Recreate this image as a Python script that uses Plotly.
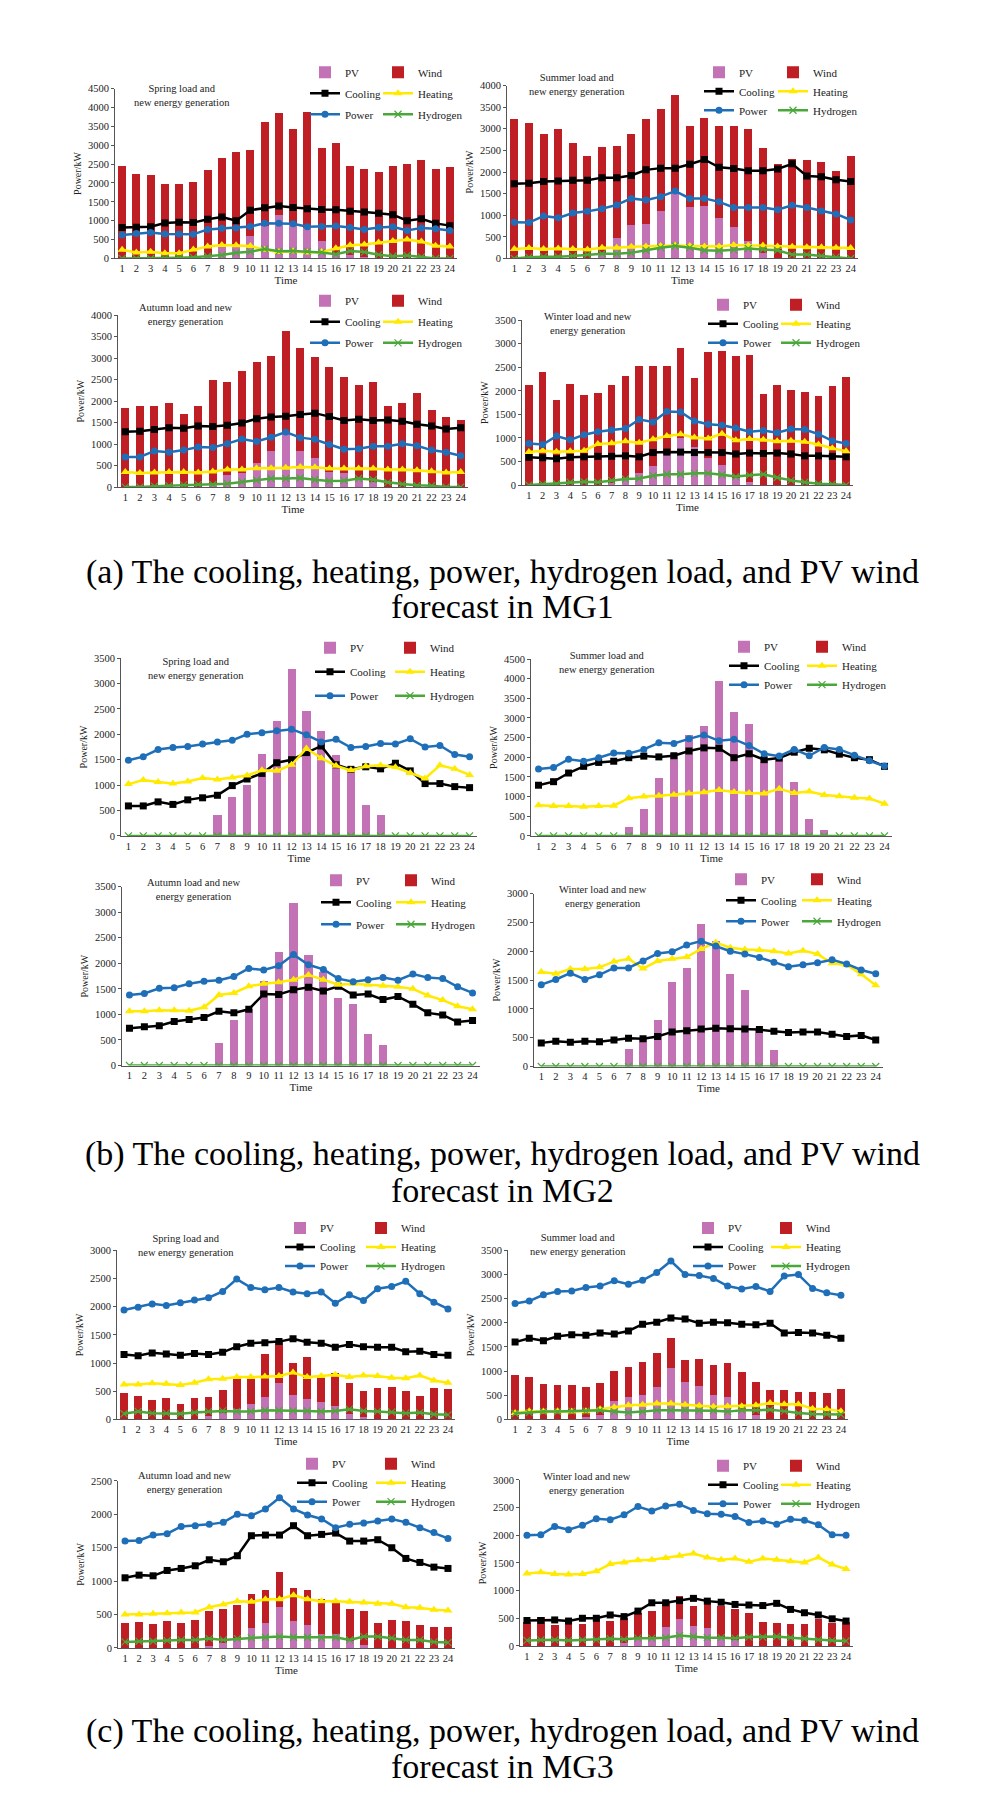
import plotly.graph_objects as go

# page is 996x1813; the html body keeps its default 8px margin, so the figure
# is drawn 8px in from the top-left corner of the window
PAGE_OFF = 8
W, H = 980, 1797
hours = list(range(1, 25))

# ---------------- MG1 ----------------
mg1_spring_pv = [0, 0, 0, 0, 0, 0, 100, 300, 350, 600, 850, 1150, 900, 800, 450, 150, 100, 50, 0, 0, 0, 0, 0, 0]
mg1_spring_wind = [2450, 2250, 2200, 1960, 1970, 2030, 2240, 2350, 2460, 2270, 2770, 2710, 2530, 3080, 2470, 2900, 2360, 2310, 2280, 2440, 2490, 2610, 2360, 2410]
mg1_spring_cooling = [820, 830, 840, 940, 960, 950, 1040, 1100, 1000, 1280, 1340, 1390, 1350, 1320, 1300, 1290, 1250, 1230, 1200, 1160, 1000, 1050, 930, 870]
mg1_spring_heating = [230, 160, 180, 140, 140, 240, 320, 360, 350, 330, 230, 170, 190, 160, 170, 270, 350, 370, 420, 460, 500, 450, 340, 320]
mg1_spring_power = [620, 660, 690, 650, 650, 640, 770, 800, 810, 850, 930, 930, 920, 840, 850, 860, 820, 770, 820, 840, 740, 810, 790, 740]
mg1_spring_hydrogen = [0, 0, 0, 10, 20, 30, 60, 90, 150, 180, 250, 190, 200, 190, 160, 110, 200, 170, 100, 60, 80, 40, 0, 0]

mg1_summer_pv = [0, 0, 0, 0, 0, 0, 100, 480, 780, 800, 1090, 1550, 1180, 1210, 940, 730, 400, 130, 0, 0, 0, 0, 0, 0]
mg1_summer_wind = [3220, 3130, 2870, 2990, 2680, 2370, 2490, 2130, 2100, 2420, 2360, 2230, 1880, 2040, 2130, 2330, 2600, 2420, 2180, 2310, 2270, 2240, 2020, 2370]
mg1_summer_cooling = [1730, 1740, 1780, 1790, 1810, 1810, 1870, 1870, 1920, 2050, 2090, 2090, 2180, 2290, 2110, 2080, 2030, 2030, 2070, 2190, 1910, 1890, 1820, 1780]
mg1_summer_heating = [220, 240, 220, 230, 220, 210, 250, 250, 270, 280, 290, 300, 290, 280, 280, 310, 300, 300, 280, 270, 260, 260, 250, 240]
mg1_summer_power = [840, 830, 980, 940, 1050, 1090, 1150, 1240, 1390, 1350, 1430, 1560, 1390, 1390, 1310, 1180, 1180, 1180, 1130, 1230, 1180, 1100, 1030, 890]
mg1_summer_hydrogen = [0, 30, 40, 40, 60, 90, 110, 110, 130, 190, 250, 290, 250, 190, 180, 200, 230, 210, 190, 90, 90, 60, 30, 0]

mg1_autumn_pv = [0, 0, 0, 0, 0, 0, 50, 280, 330, 570, 840, 1250, 850, 670, 350, 320, 200, 120, 0, 0, 0, 0, 0, 0]
mg1_autumn_wind = [1830, 1890, 1890, 1960, 1690, 1890, 2440, 2160, 2380, 2350, 2210, 2370, 2390, 2350, 2440, 2240, 2180, 2330, 1880, 1960, 2190, 1790, 1620, 1570]
mg1_autumn_cooling = [1290, 1300, 1340, 1380, 1370, 1420, 1410, 1440, 1490, 1590, 1630, 1650, 1690, 1720, 1640, 1550, 1580, 1550, 1560, 1530, 1460, 1420, 1350, 1380]
mg1_autumn_heating = [350, 330, 340, 350, 350, 340, 360, 410, 410, 440, 440, 450, 470, 460, 430, 430, 430, 430, 410, 410, 390, 370, 340, 350]
mg1_autumn_power = [700, 700, 840, 810, 860, 930, 920, 1010, 1120, 1060, 1160, 1280, 1150, 1110, 990, 880, 890, 950, 950, 1010, 960, 860, 810, 730]
mg1_autumn_hydrogen = [0, 0, 20, 30, 50, 60, 60, 80, 120, 160, 200, 200, 210, 170, 140, 150, 200, 170, 110, 70, 40, 30, 0, 0]

mg1_winter_pv = [0, 0, 0, 0, 0, 0, 50, 100, 250, 400, 650, 1000, 800, 580, 420, 150, 60, 0, 0, 0, 0, 0, 0, 0]
mg1_winter_wind = [2120, 2390, 1810, 2140, 1920, 1960, 2080, 2220, 2270, 2120, 1870, 1910, 1480, 2240, 2430, 2590, 2700, 1940, 2120, 2020, 1980, 1880, 2100, 2300]
mg1_winter_cooling = [590, 580, 560, 590, 600, 610, 610, 620, 600, 690, 700, 700, 690, 690, 690, 660, 680, 670, 680, 660, 620, 620, 610, 600]
mg1_winter_heating = [700, 730, 710, 720, 730, 870, 890, 930, 900, 970, 1040, 1080, 1010, 990, 1090, 950, 980, 960, 930, 940, 920, 860, 780, 720]
mg1_winter_power = [880, 860, 1040, 960, 1070, 1130, 1170, 1200, 1390, 1340, 1560, 1550, 1360, 1290, 1270, 1210, 1130, 1160, 1110, 1190, 1180, 1080, 940, 880]
mg1_winter_hydrogen = [0, 20, 30, 60, 70, 60, 100, 130, 140, 200, 230, 230, 250, 250, 220, 180, 210, 230, 160, 100, 60, 30, 20, 0]

# ---------------- MG2 ----------------
mg2_spring_pv = [0, 0, 0, 0, 0, 0, 420, 770, 1010, 1620, 2270, 3280, 2460, 2070, 1590, 1330, 610, 420, 0, 0, 0, 0, 0, 0]
mg2_spring_wind = [0, 0, 0, 0, 0, 0, 0, 0, 0, 0, 0, 0, 0, 0, 0, 0, 0, 0, 0, 0, 0, 0, 0, 0]
mg2_spring_cooling = [590, 590, 670, 620, 710, 750, 800, 990, 1120, 1230, 1440, 1500, 1640, 1770, 1400, 1310, 1360, 1320, 1430, 1280, 1030, 1030, 970, 950]
mg2_spring_heating = [1020, 1100, 1060, 1030, 1070, 1140, 1110, 1150, 1190, 1290, 1280, 1400, 1720, 1530, 1380, 1290, 1370, 1390, 1350, 1240, 1130, 1390, 1320, 1200]
mg2_spring_power = [1490, 1560, 1700, 1740, 1760, 1810, 1850, 1880, 2000, 2030, 2070, 2100, 1990, 1850, 1900, 1740, 1760, 1820, 1810, 1910, 1750, 1780, 1600, 1560]
mg2_spring_hydrogen = [0, 0, 0, 0, 0, 0, 0, 0, 0, 0, 0, 0, 0, 0, 0, 0, 0, 0, 0, 0, 0, 0, 0, 0]

mg2_summer_pv = [0, 0, 0, 0, 0, 0, 230, 690, 1480, 2120, 2580, 2800, 3940, 3160, 2840, 1950, 2010, 1380, 430, 150, 0, 0, 0, 0]
mg2_summer_wind = [0, 0, 0, 0, 0, 0, 0, 0, 0, 0, 0, 0, 0, 0, 0, 0, 0, 0, 0, 0, 0, 0, 0, 0]
mg2_summer_cooling = [1290, 1380, 1600, 1770, 1870, 1900, 1990, 2030, 2010, 2040, 2160, 2240, 2230, 1990, 2090, 1940, 1980, 2130, 2230, 2190, 2080, 1990, 1940, 1770]
mg2_summer_heating = [780, 760, 760, 740, 760, 770, 960, 1000, 1020, 1050, 1080, 1110, 1170, 1120, 1090, 1080, 1200, 1090, 1130, 1040, 1010, 970, 950, 820]
mg2_summer_power = [1700, 1740, 1950, 1900, 1990, 2110, 2100, 2200, 2370, 2350, 2470, 2570, 2420, 2460, 2300, 2090, 2030, 2200, 2040, 2250, 2200, 2050, 1910, 1780]
mg2_summer_hydrogen = [0, 0, 0, 0, 0, 0, 0, 0, 0, 0, 0, 0, 0, 0, 0, 0, 0, 0, 0, 0, 0, 0, 0, 0]

mg2_autumn_pv = [0, 0, 0, 0, 0, 0, 440, 900, 1100, 1660, 2230, 3180, 2170, 1830, 1320, 1210, 620, 410, 0, 0, 0, 0, 0, 0]
mg2_autumn_wind = [0, 0, 0, 0, 0, 0, 0, 0, 0, 0, 0, 0, 0, 0, 0, 0, 0, 0, 0, 0, 0, 0, 0, 0]
mg2_autumn_cooling = [730, 760, 780, 860, 900, 940, 1060, 1030, 1100, 1400, 1390, 1480, 1530, 1460, 1550, 1380, 1400, 1290, 1350, 1200, 1030, 990, 850, 880]
mg2_autumn_heating = [1060, 1060, 1080, 1080, 1070, 1140, 1380, 1420, 1550, 1600, 1630, 1680, 1770, 1680, 1580, 1600, 1580, 1560, 1540, 1500, 1370, 1280, 1160, 1100]
mg2_autumn_power = [1380, 1410, 1510, 1520, 1600, 1650, 1670, 1740, 1900, 1870, 1950, 2170, 1970, 1880, 1700, 1640, 1680, 1720, 1670, 1790, 1720, 1700, 1540, 1420]
mg2_autumn_hydrogen = [0, 0, 0, 0, 0, 0, 0, 0, 0, 0, 0, 0, 0, 0, 0, 0, 0, 0, 0, 0, 0, 0, 0, 0]

mg2_winter_pv = [0, 0, 0, 0, 0, 0, 300, 500, 800, 1460, 1710, 2480, 2170, 1610, 1330, 650, 280, 0, 0, 0, 0, 0, 0, 0]
mg2_winter_wind = [0, 0, 0, 0, 0, 0, 0, 0, 0, 0, 0, 0, 0, 0, 0, 0, 0, 0, 0, 0, 0, 0, 0, 0]
mg2_winter_cooling = [410, 440, 420, 440, 430, 460, 490, 480, 520, 600, 620, 650, 665, 655, 650, 640, 610, 590, 600, 600, 560, 520, 540, 460]
mg2_winter_heating = [1640, 1610, 1690, 1690, 1720, 1820, 1870, 1700, 1830, 1870, 1900, 2040, 2150, 2060, 2030, 2020, 2000, 1960, 2010, 1950, 1790, 1760, 1600, 1410]
mg2_winter_power = [1420, 1510, 1620, 1510, 1590, 1710, 1710, 1830, 1960, 1990, 2110, 2175, 2090, 2000, 1950, 1890, 1810, 1730, 1765, 1800, 1850, 1780, 1675, 1610]
mg2_winter_hydrogen = [0, 0, 0, 0, 0, 0, 0, 0, 0, 0, 0, 0, 0, 0, 0, 0, 0, 0, 0, 0, 0, 0, 0, 0]

# ---------------- MG3 ----------------
mg3_spring_pv = [0, 0, 0, 0, 0, 0, 60, 120, 180, 270, 400, 640, 440, 360, 310, 230, 100, 40, 0, 0, 0, 0, 0, 0]
mg3_spring_wind = [460, 410, 350, 370, 270, 370, 340, 400, 560, 450, 760, 740, 560, 750, 440, 600, 540, 470, 560, 570, 510, 410, 560, 540]
mg3_spring_cooling = [1150, 1130, 1180, 1160, 1140, 1170, 1150, 1190, 1290, 1350, 1360, 1380, 1430, 1370, 1350, 1280, 1330, 1290, 1280, 1280, 1200, 1210, 1150, 1140]
mg3_spring_heating = [620, 620, 640, 630, 610, 650, 710, 720, 750, 750, 760, 770, 830, 750, 770, 790, 750, 780, 770, 740, 730, 780, 690, 650]
mg3_spring_power = [1940, 1990, 2050, 2020, 2070, 2120, 2160, 2270, 2490, 2340, 2300, 2340, 2260, 2230, 2260, 2060, 2210, 2110, 2320, 2360, 2450, 2230, 2080, 1960]
mg3_spring_hydrogen = [100, 140, 110, 110, 100, 120, 140, 150, 140, 140, 160, 160, 150, 150, 140, 150, 180, 150, 140, 130, 110, 120, 90, 80]

mg3_summer_pv = [0, 0, 0, 0, 0, 50, 100, 380, 460, 500, 670, 1070, 770, 700, 510, 460, 220, 80, 0, 0, 0, 0, 0, 0]
mg3_summer_wind = [920, 870, 740, 710, 720, 630, 650, 620, 620, 680, 710, 620, 460, 550, 620, 700, 760, 690, 600, 610, 570, 570, 550, 620]
mg3_summer_cooling = [1600, 1680, 1630, 1720, 1750, 1740, 1790, 1770, 1830, 1970, 2010, 2100, 2080, 1990, 2010, 2000, 1970, 1960, 1990, 1790, 1800, 1790, 1740, 1680]
mg3_summer_heating = [130, 170, 160, 170, 160, 170, 210, 250, 290, 300, 330, 330, 300, 280, 260, 270, 270, 290, 340, 310, 310, 220, 210, 170]
mg3_summer_power = [2400, 2450, 2580, 2650, 2660, 2730, 2760, 2870, 2800, 2880, 3040, 3280, 3000, 2980, 2920, 2760, 2700, 2750, 2650, 2970, 3000, 2710, 2620, 2570]
mg3_summer_hydrogen = [120, 140, 160, 160, 170, 170, 190, 160, 140, 160, 190, 190, 190, 180, 180, 160, 190, 190, 200, 170, 130, 110, 110, 100]

mg3_autumn_pv = [0, 0, 0, 0, 0, 0, 30, 80, 120, 300, 380, 610, 400, 350, 210, 210, 100, 40, 0, 0, 0, 0, 0, 0]
mg3_autumn_wind = [370, 390, 360, 400, 370, 420, 520, 500, 520, 500, 490, 520, 500, 520, 530, 480, 480, 520, 380, 420, 410, 340, 320, 310]
mg3_autumn_cooling = [1050, 1090, 1080, 1160, 1190, 1230, 1320, 1290, 1380, 1680, 1690, 1690, 1830, 1680, 1700, 1720, 1600, 1600, 1620, 1500, 1340, 1280, 1210, 1190]
mg3_autumn_heating = [500, 500, 510, 520, 530, 530, 610, 650, 700, 690, 730, 730, 790, 730, 700, 700, 690, 680, 660, 660, 610, 600, 570, 560]
mg3_autumn_power = [1600, 1610, 1690, 1710, 1820, 1830, 1850, 1880, 2000, 1980, 2080, 2250, 2080, 1990, 1930, 1800, 1850, 1870, 1900, 1930, 1880, 1800, 1730, 1640]
mg3_autumn_hydrogen = [90, 100, 100, 110, 120, 120, 140, 120, 140, 150, 160, 170, 160, 160, 150, 160, 120, 170, 170, 150, 120, 120, 90, 80]

mg3_winter_pv = [0, 0, 0, 0, 0, 0, 0, 60, 120, 130, 350, 480, 360, 320, 170, 100, 0, 0, 0, 0, 0, 0, 0, 0]
mg3_winter_wind = [440, 520, 370, 440, 400, 490, 450, 450, 470, 510, 440, 430, 360, 500, 550, 570, 600, 440, 420, 390, 390, 480, 420, 440]
mg3_winter_cooling = [460, 460, 470, 450, 500, 500, 560, 530, 630, 780, 780, 820, 860, 810, 790, 750, 740, 730, 770, 660, 600, 560, 490, 450]
mg3_winter_heating = [1310, 1330, 1300, 1290, 1300, 1350, 1480, 1510, 1550, 1560, 1590, 1630, 1670, 1600, 1560, 1580, 1520, 1580, 1560, 1530, 1510, 1600, 1470, 1390]
mg3_winter_power = [2000, 2010, 2160, 2100, 2180, 2300, 2280, 2370, 2520, 2440, 2530, 2560, 2450, 2390, 2380, 2340, 2230, 2260, 2200, 2290, 2270, 2190, 2010, 2000]
mg3_winter_hydrogen = [100, 110, 110, 100, 110, 110, 130, 120, 140, 140, 150, 190, 170, 150, 150, 140, 160, 160, 170, 150, 130, 110, 100, 90]

panel_titles = {
    "spring": "Spring load and<br>new energy generation",
    "summer": "Summer load and<br>new energy generation",
    "autumn": "Autumn load and new<br>energy generation",
    "winter": "Winter load and new<br>energy generation",
}
captions = [
    ("(a) The cooling, heating, power, hydrogen load, and PV wind", "forecast in MG1"),
    ("(b) The cooling, heating, power, hydrogen load, and PV wind", "forecast in MG2"),
    ("(c) The cooling, heating, power, hydrogen load, and PV wind", "forecast in MG3"),
]

series = [
    ("spring", mg1_spring_pv, mg1_spring_wind, mg1_spring_cooling, mg1_spring_heating, mg1_spring_power, mg1_spring_hydrogen),
    ("summer", mg1_summer_pv, mg1_summer_wind, mg1_summer_cooling, mg1_summer_heating, mg1_summer_power, mg1_summer_hydrogen),
    ("autumn", mg1_autumn_pv, mg1_autumn_wind, mg1_autumn_cooling, mg1_autumn_heating, mg1_autumn_power, mg1_autumn_hydrogen),
    ("winter", mg1_winter_pv, mg1_winter_wind, mg1_winter_cooling, mg1_winter_heating, mg1_winter_power, mg1_winter_hydrogen),
    ("spring", mg2_spring_pv, mg2_spring_wind, mg2_spring_cooling, mg2_spring_heating, mg2_spring_power, mg2_spring_hydrogen),
    ("summer", mg2_summer_pv, mg2_summer_wind, mg2_summer_cooling, mg2_summer_heating, mg2_summer_power, mg2_summer_hydrogen),
    ("autumn", mg2_autumn_pv, mg2_autumn_wind, mg2_autumn_cooling, mg2_autumn_heating, mg2_autumn_power, mg2_autumn_hydrogen),
    ("winter", mg2_winter_pv, mg2_winter_wind, mg2_winter_cooling, mg2_winter_heating, mg2_winter_power, mg2_winter_hydrogen),
    ("spring", mg3_spring_pv, mg3_spring_wind, mg3_spring_cooling, mg3_spring_heating, mg3_spring_power, mg3_spring_hydrogen),
    ("summer", mg3_summer_pv, mg3_summer_wind, mg3_summer_cooling, mg3_summer_heating, mg3_summer_power, mg3_summer_hydrogen),
    ("autumn", mg3_autumn_pv, mg3_autumn_wind, mg3_autumn_cooling, mg3_autumn_heating, mg3_autumn_power, mg3_autumn_hydrogen),
    ("winter", mg3_winter_pv, mg3_winter_wind, mg3_winter_cooling, mg3_winter_heating, mg3_winter_power, mg3_winter_hydrogen),
]

# panel frames in page pixels: x0, x1, y_top, y_bottom, y max,
# title centre (x, y), legend columns (x left, x right), first legend row y, row gap
frames = [
    (115, 457, 84, 255, 4500, (182, 91), (317, 390), 70, 2),
    (507, 858, 81, 255, 4000, (577, 80), (711, 785), 70, 0),
    (118, 468, 312, 485, 4000, (185, 311), (317, 390), 300, 2),
    (522, 853, 317, 483, 3500, (588, 320), (715, 788), 304, 0),
    (121, 477, 657, 836, 3500, (196, 668), (322, 402), 649, 5),
    (531, 892, 658, 836, 4500, (607, 661), (736, 814), 648, 0),
    (122, 480, 887, 1067, 3500, (193, 890), (328, 403), 883, 3),
    (534, 883, 894, 1068, 3000, (603, 897), (733, 809), 882, 2),
    (117, 455, 1253, 1423, 3000, (186, 1248), (292, 373), 1233, 0),
    (508, 848, 1253, 1423, 3500, (578, 1247), (700, 778), 1233, 0),
    (118, 455, 1485, 1653, 2500, (184, 1487), (304, 383), 1470, 0),
    (520, 853, 1484, 1651, 3000, (587, 1488), (715, 788), 1472, 0),
]
caption_y = [(570, 605), (1156, 1193), (1737, 1772)]

PV_C, WIND_C = "#C472B6", "#BE1E24"
COOL_C, HEAT_C, POWER_C, H2_C = "#000000", "#FFEA00", "#1F6FB8", "#4AA83A"
SERIF = "Liberation Serif, Times New Roman, serif"


def fx(p):
    return (p - PAGE_OFF) / W


def fy(p):
    return 1 - (p - PAGE_OFF) / H


fig = go.Figure()
layout = {}
annotations = []

for i, (season, pv, wind, cool, heat, power, h2) in enumerate(series):
    n = i + 1
    x0, x1, yt, yb, ymax, (tx, ty), (lx_left, lx_right), ly, gap = frames[i]
    xa, ya = ("x", "y") if n == 1 else (f"x{n}", f"y{n}")
    leg_a = "legend" if n == 1 else f"legend{2 * n - 1}"
    leg_b = f"legend{2 * n}"

    fig.add_trace(go.Bar(x=hours, y=pv, name="PV", marker=dict(color=PV_C, line=dict(width=0)),
                         xaxis=xa, yaxis=ya, legend=leg_a, legendgroup=f"pv{n}"))
    fig.add_trace(go.Bar(x=hours, y=wind, name="Wind", marker=dict(color=WIND_C, line=dict(width=0)),
                         xaxis=xa, yaxis=ya, legend=leg_b, legendgroup=f"wind{n}"))
    fig.add_trace(go.Scatter(x=hours, y=cool, name="Cooling", mode="lines+markers",
                             line=dict(color=COOL_C, width=2.5),
                             marker=dict(symbol="square", size=7, color=COOL_C),
                             xaxis=xa, yaxis=ya, legend=leg_a, legendgroup=f"cool{n}"))
    fig.add_trace(go.Scatter(x=hours, y=heat, name="Heating", mode="lines+markers",
                             line=dict(color=HEAT_C, width=2.5),
                             marker=dict(symbol="triangle-up", size=8, color=HEAT_C),
                             xaxis=xa, yaxis=ya, legend=leg_b, legendgroup=f"heat{n}"))
    fig.add_trace(go.Scatter(x=hours, y=power, name="Power", mode="lines+markers",
                             line=dict(color=POWER_C, width=2.5),
                             marker=dict(symbol="circle", size=7, color=POWER_C),
                             xaxis=xa, yaxis=ya, legend=leg_a, legendgroup=f"power{n}"))
    fig.add_trace(go.Scatter(x=hours, y=h2, name="Hydrogen", mode="lines+markers",
                             line=dict(color=H2_C, width=2.5),
                             marker=dict(symbol="x-thin", size=7, line=dict(color=H2_C, width=1.2)),
                             xaxis=xa, yaxis=ya, legend=leg_b, legendgroup=f"h2{n}"))

    xkey = "xaxis" if n == 1 else f"xaxis{n}"
    ykey = "yaxis" if n == 1 else f"yaxis{n}"
    layout[xkey] = dict(
        domain=[fx(x0), fx(x1)], anchor=ya, range=[0.5, 24.5],
        tickmode="array", tickvals=hours, ticktext=[str(h) for h in hours],
        showgrid=False, zeroline=False, showline=True, linecolor="#555", linewidth=1,
        ticks="", tickfont=dict(family=SERIF, size=10.5, color="#222"),
        title=dict(text="Time", font=dict(family=SERIF, size=11, color="#222"), standoff=3),
    )
    layout[ykey] = dict(
        domain=[fy(yb), fy(yt)], anchor=xa, range=[0, ymax], dtick=500,
        showgrid=False, zeroline=False, showline=True, linecolor="#555", linewidth=1,
        ticks="outside", ticklen=3, tickcolor="#555",
        tickfont=dict(family=SERIF, size=10.5, color="#222"),
        title=dict(text="Power/kW", font=dict(family=SERIF, size=10, color="#222"), standoff=4),
    )
    for key, lx in ((leg_a, lx_left), (leg_b, lx_right)):
        layout[key] = dict(
            x=fx(lx - 12), y=fy(ly - 17), xanchor="left", yanchor="top",
            orientation="v", bgcolor="rgba(0,0,0,0)", borderwidth=0,
            tracegroupgap=gap, itemwidth=30,
            font=dict(family=SERIF, size=11, color="#222"),
        )
    annotations.append(dict(
        x=fx(tx), y=fy(ty), xref="paper", yref="paper", text=panel_titles[season],
        showarrow=False, xanchor="center", yanchor="middle",
        font=dict(family=SERIF, size=10.5, color="#222"),
    ))

for (line1, line2), (y1, y2) in zip(captions, caption_y):
    for text, yy in ((line1, y1), (line2, y2)):
        annotations.append(dict(
            x=fx(503), y=fy(yy), xref="paper", yref="paper", text=text,
            showarrow=False, xanchor="center", yanchor="middle",
            font=dict(family=SERIF, size=34, color="#000"),
        ))

fig.update_layout(
    width=W, height=H,
    margin=dict(l=0, r=0, t=0, b=0),
    paper_bgcolor="white", plot_bgcolor="white",
    barmode="stack", bargap=0.45,
    showlegend=True,
    annotations=annotations,
    **layout,
)

fig.write_html("out.html")
